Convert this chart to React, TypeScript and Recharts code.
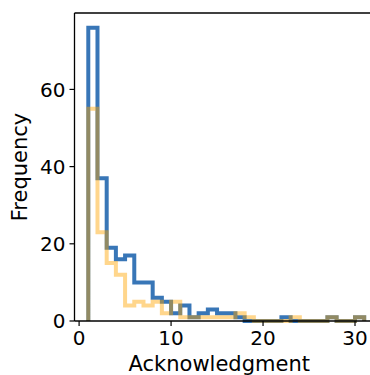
import { ComposedChart, Line, XAxis, YAxis } from "recharts";

// histogram bins of width 1, left edges 1..30
const binEdges = [
  1, 2, 3, 4, 5, 6, 7, 8, 9, 10, 11, 12, 13, 14, 15, 16, 17, 18, 19, 20, 21,
  22, 23, 24, 25, 26, 27, 28, 29, 30, 31,
];
const blueCounts = [
  76, 37, 19, 16, 17, 10, 10, 6, 5, 2, 4, 1, 2, 3, 2, 2, 1, 0, 0, 0, 0, 1, 0,
  0, 0, 0, 1, 0, 0, 1,
];
const orangeCounts = [
  55, 23, 15, 12, 4, 5, 4, 5, 2, 5, 1, 1, 1, 1, 1, 1, 2, 1, 0, 0, 0, 0, 1, 0,
  0, 0, 1, 0, 0, 1,
];
const xTicks = [0, 10, 20, 30];
const yTicks = [0, 20, 40, 60];

const FONT = "'DejaVu Sans', sans-serif";
const BLUE = "#3876b7";
const ORANGE = "#ffa500";

// step outline: rise from 0 at the first edge, fall back to 0 at the last
const last = binEdges.length - 1;
const rows = [
  { x: binEdges[0], blue: 0, orange: 0 },
  ...blueCounts.map((b, i) => ({ x: binEdges[i], blue: b, orange: orangeCounts[i] })),
  { x: binEdges[last], blue: blueCounts[last - 1], orange: orangeCounts[last - 1] },
  { x: binEdges[last], blue: 0, orange: 0 },
];

function YLabel(props: any) {
  const vb = props.viewBox || { x: 0, y: 0, width: 0, height: 0 };
  const x = vb.x + 27;
  const y = vb.y + vb.height / 2;
  return (
    <text
      x={x}
      y={y}
      transform={`rotate(-90 ${x} ${y})`}
      textAnchor="middle"
      fontSize={21}
      fontFamily={FONT}
      fill="#000"
    >
      Frequency
    </text>
  );
}

export default function App() {
  return (
    <div
      style={{
        position: "absolute",
        left: 0,
        top: 0,
        width: 370,
        height: 375,
        overflow: "hidden",
        background: "#fff",
      }}
    >
      <ComposedChart
        width={390}
        height={375}
        data={rows}
        margin={{ top: 12, right: 12, bottom: 0, left: 0 }}
      >
        <XAxis
          dataKey="x"
          type="number"
          domain={[-0.5, 32.5]}
          ticks={xTicks}
          tick={{ fontSize: 20, fill: "#000", fontFamily: FONT }}
          tickLine={{ stroke: "#000", strokeWidth: 1.2 }}
          axisLine={{ stroke: "#000", strokeWidth: 1.3 }}
          tickSize={5}
          tickMargin={5}
          height={54}
          label={{
            value: "Acknowledgment",
            position: "insideBottom",
            offset: 4,
            dx: -7,
            fontSize: 21,
            fontFamily: FONT,
            fill: "#000",
          }}
        />
        <XAxis
          xAxisId="top"
          orientation="top"
          dataKey="x"
          type="number"
          domain={[-0.5, 32.5]}
          tick={false}
          tickLine={false}
          axisLine={{ stroke: "#000", strokeWidth: 1.3 }}
          height={1}
        />
        <YAxis
          type="number"
          domain={[0, 79.8]}
          ticks={yTicks}
          tick={{ fontSize: 20, fill: "#000", fontFamily: FONT }}
          tickLine={{ stroke: "#000", strokeWidth: 1.2 }}
          axisLine={{ stroke: "#000", strokeWidth: 1.3 }}
          tickSize={5}
          tickMargin={4}
          width={74.5}
          label={<YLabel />}
        />
        <Line
          type="stepAfter"
          dataKey="blue"
          stroke={BLUE}
          strokeWidth={4}
          strokeLinejoin="miter"
          dot={false}
          activeDot={false}
          isAnimationActive={false}
        />
        <Line
          type="stepAfter"
          dataKey="orange"
          stroke={ORANGE}
          strokeOpacity={0.45}
          strokeWidth={4}
          strokeLinejoin="miter"
          dot={false}
          activeDot={false}
          isAnimationActive={false}
        />
      </ComposedChart>
    </div>
  );
}
